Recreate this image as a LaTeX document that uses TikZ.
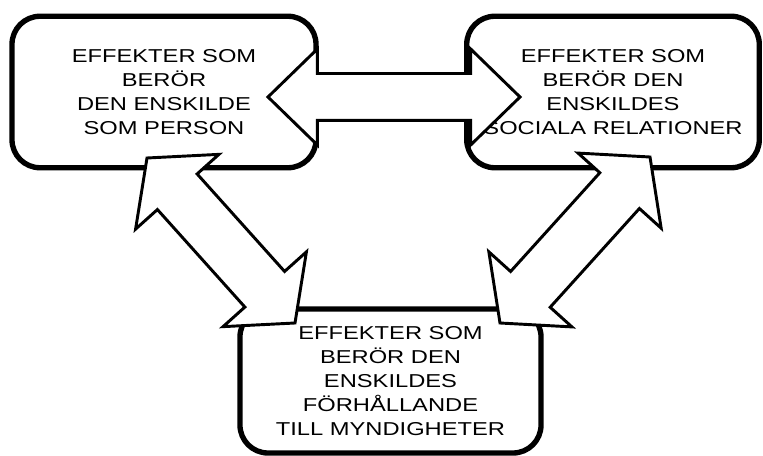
\documentclass[tikz,border=0pt]{standalone}
\usepackage{fontspec}
\setmainfont{Liberation Sans}[FakeStretch=1.27]
\usetikzlibrary{calc}

% block double arrow: from, to, shaft half width, head half width, head length
\newcommand{\blockarrow}[5]{%
  \coordinate (qa) at ($(#1)!#5!(#2)$);
  \coordinate (qb) at ($(#2)!#5!(#1)$);
  \draw[flowarrow] (#1) -- ($(qa)!#4!90:(#2)$) -- ($(qa)!#3!90:(#2)$)
    -- ($(qb)!#3!-90:(#1)$) -- ($(qb)!#4!-90:(#1)$) -- (#2)
    -- ($(qb)!#4!90:(#1)$) -- ($(qb)!#3!90:(#1)$)
    -- ($(qa)!#3!-90:(#2)$) -- ($(qa)!#4!-90:(#2)$) -- cycle;}

\begin{document}
\begin{tikzpicture}[x=0.75pt, y=-0.75pt,
    every node/.style={font=\fontsize{14}{18}\selectfont},
    effectbox/.style={draw, line width=4pt, rounded corners=21pt, align=center},
    flowarrow/.style={draw, fill=white, line width=2.2pt, line join=miter}]
\useasboundingbox (0,0) rectangle (763,456);
\node[effectbox, minimum width=228pt, minimum height=113.6pt] (person) at (164,92)
  {EFFEKTER SOM\\BERÖR\\DEN ENSKILDE\\SOM PERSON};
\node[effectbox, minimum width=219.4pt, minimum height=113.6pt] (social) at (613,92)
  {EFFEKTER SOM\\BERÖR DEN\\ENSKILDES\\SOCIALA RELATIONER};
\node[effectbox, minimum width=225.8pt, minimum height=108pt] (authority) at (390.5,381)
  {EFFEKTER SOM\\BERÖR DEN\\ENSKILDES\\FÖRHÅLLANDE\\TILL MYNDIGHETER};
% arrow tips
\coordinate (hl) at (268,97);
\coordinate (hr) at (520,97);
\coordinate (la) at (147,158);
\coordinate (lb) at (295,323);
\coordinate (ra) at (650,157);
\coordinate (rb) at (500,323);
\blockarrow{hl}{hr}{17.6pt}{36pt}{37pt}
\blockarrow{la}{lb}{20pt}{42pt}{34pt}
\blockarrow{ra}{rb}{20pt}{42pt}{34pt}
\end{tikzpicture}
\end{document}
